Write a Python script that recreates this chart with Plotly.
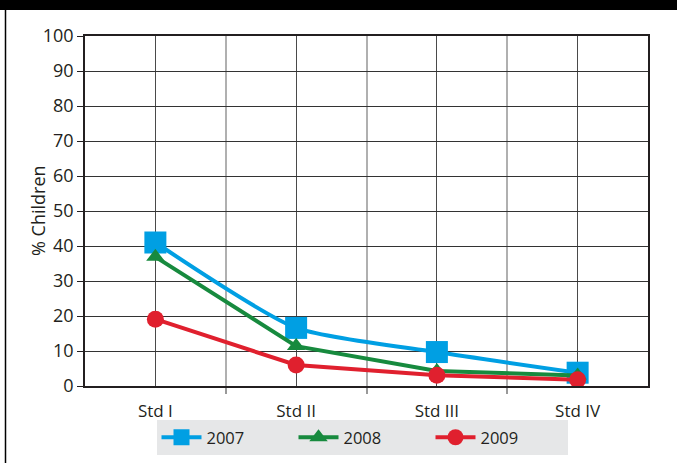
import plotly.graph_objects as go

categories = ["Std I", "Std II", "Std III", "Std IV"]
y2007 = [41, 16.6, 9.7, 3.8]
y2008 = [36.9, 11.4, 4.3, 3.0]
y2009 = [19.1, 6.0, 3.1, 1.8]
yticks = [0, 10, 20, 30, 40, 50, 60, 70, 80, 90, 100]

xpos = list(range(len(categories)))

fig = go.Figure()
fig.add_trace(go.Scatter(x=xpos, y=y2007, name="2007", mode="lines+markers",
                         line=dict(color="#009fe3", width=4, shape="spline", smoothing=0.6),
                         marker=dict(symbol="square", size=22, color="#009fe3")))
fig.add_trace(go.Scatter(x=xpos, y=y2008, name="2008", mode="lines+markers",
                         line=dict(color="#178a3e", width=4),
                         marker=dict(symbol="triangle-up", size=16, color="#178a3e")))
fig.add_trace(go.Scatter(x=xpos, y=y2009, name="2009", mode="lines+markers",
                         line=dict(color="#e0202e", width=4),
                         marker=dict(symbol="circle", size=17, color="#e0202e")))

L, R, T, B = 85, 29, 36, 77
W, H = 677, 463
pw, ph = W - L - R, H - T - B

def px_x(p):
    return (p - L) / pw

def px_y(p):
    return (H - B - p) / ph

fig.update_layout(
    width=W, height=H,
    margin=dict(l=L, r=R, t=T, b=B, autoexpand=False),
    paper_bgcolor="white", plot_bgcolor="white",
    font=dict(family="Open Sans", size=16, color="#231f20"),
    showlegend=True,
    legend=dict(orientation="h", x=px_x(362), xanchor="center", y=px_y(420), yanchor="top",
                bgcolor="#e6e7e8", font=dict(size=16.5), entrywidth=82,
                itemwidth=40),
    xaxis=dict(range=[-0.5, 3.5], tickvals=xpos, ticktext=categories, automargin=False,
               tickfont=dict(size=17), ticklabelstandoff=9,
               showgrid=True, gridcolor="#4a4a4a", gridwidth=1,
               showline=True, linecolor="#231f20", linewidth=1.5, mirror=True,
               ticks="", zeroline=False, fixedrange=True,
               minor=dict(tickvals=[0.5, 1.5, 2.5], showgrid=True, gridcolor="#b0b0b0",
                          gridwidth=1.5, ticks="outside", ticklen=6, tickcolor="#999999",
                          tickwidth=1.5)),
    yaxis=dict(range=[0, 100], tickvals=yticks, showgrid=True, gridcolor="#333333",
               tickfont=dict(size=18), fixedrange=True, automargin=False,
               gridwidth=1, showline=True, linecolor="#231f20", linewidth=1.5, mirror=True,
               ticks="outside", ticklen=6, tickcolor="#231f20", zeroline=False),
    annotations=[
        dict(text="% Children", xref="paper", yref="paper", x=px_x(38), y=px_y(211),
             xanchor="center", yanchor="middle", textangle=-90, showarrow=False,
             font=dict(size=18, color="#231f20")),
    ],
    shapes=[
        dict(type="rect", xref="paper", yref="paper", x0=px_x(0), x1=px_x(W),
             y0=px_y(10), y1=px_y(0), fillcolor="black", line=dict(width=0), layer="above"),
        dict(type="line", xref="paper", yref="paper", x0=px_x(5.5), x1=px_x(5.5),
             y0=px_y(10), y1=px_y(H), line=dict(color="black", width=1.5)),
    ],
)

fig.write_html("out.html", config={"displayModeBar": False},
               post_script="document.body.style.margin='0';document.body.style.overflow='hidden';")
